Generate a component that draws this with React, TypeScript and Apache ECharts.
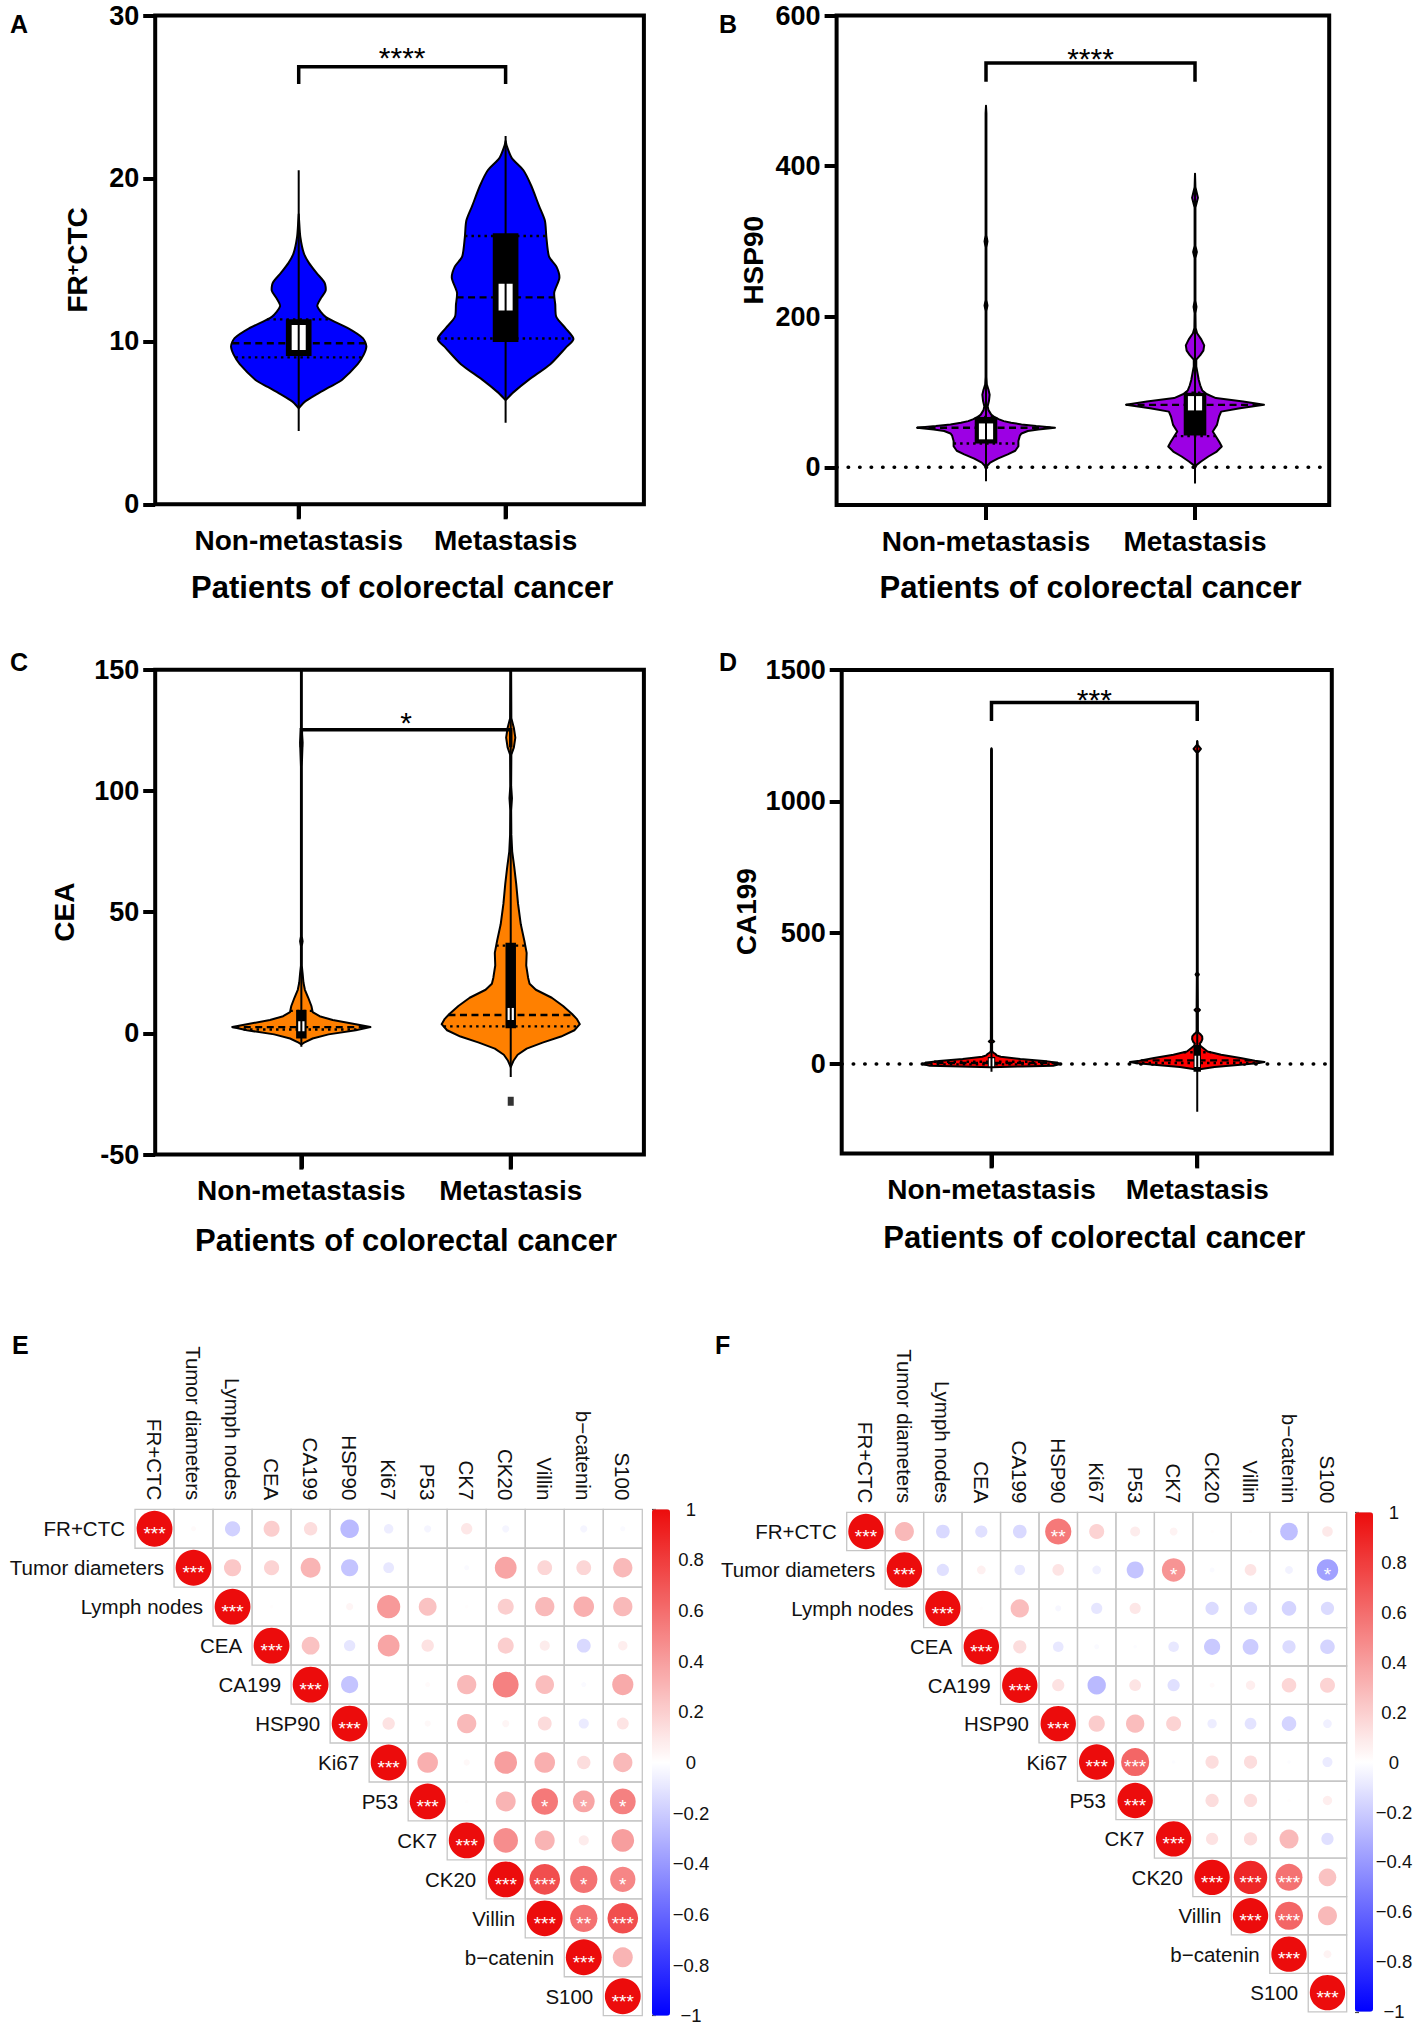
import React, { useEffect, useRef } from "react";
import * as echarts from "echarts";

const FONT = "'Liberation Sans', Arial, Helvetica, sans-serif";

// ---------------- Violin panels (A–D) ----------------
const groupNames = ["Non-metastasis", "Metastasis"];
const groupTicks = [0, 1];

// outline profiles: [value, half-width in group units]
const ctcNonMetOutline = [[5.9,0],[6.3,0.03],[6.7,0.08],[7.2,0.15],[7.65,0.21],[8.6,0.285],[9.2,0.315],[9.7,0.327],[10.2,0.31],[10.8,0.24],[11.5,0.13],[12.15,0.09],[12.6,0.105],[13.1,0.13],[13.6,0.125],[14.2,0.086],[14.8,0.05],[15.4,0.025],[16.4,0.008],[17.4,0.002],[17.8,0]];
const ctcMetOutline = [[6.4,0],[6.9,0.04],[7.65,0.113],[8.6,0.216],[9.6,0.29],[10.15,0.328],[10.8,0.29],[11.5,0.245],[12.25,0.24],[13.0,0.235],[13.9,0.26],[14.6,0.245],[15.2,0.21],[16.4,0.197],[17.4,0.19],[18.3,0.162],[19.55,0.124],[20.5,0.086],[21.25,0.03],[21.98,0.006],[22.3,0]];
const hspNonMetOutline = [[-2,0],[1.8,0.005],[6.2,0.02],[11.5,0.056],[17.3,0.104],[22,0.14],[28,0.155],[35,0.155],[42,0.162],[45,0.17],[48.2,0.2],[50.4,0.25],[52.6,0.33],[54.8,0.24],[57,0.17],[59.2,0.12],[61.4,0.085],[64,0.06],[66.9,0.04],[70,0.025],[76,0.012],[81,0.008],[88,0.014],[96.5,0.0175],[103,0.012],[110,0.004],[120,0.002],[208,0.002],[215,0.007],[222,0.002],[292,0.002],[300,0.007],[308,0.002],[470,0.002],[480,0]];
const hspMetOutline = [[-1,0],[3.3,0.008],[7.8,0.029],[14.4,0.064],[21,0.104],[27.7,0.128],[34.3,0.115],[41,0.1],[47.5,0.085],[56.4,0.105],[67.5,0.115],[74,0.125],[78.6,0.215],[83,0.33],[87.5,0.23],[92,0.1],[97.4,0.055],[102,0.035],[109,0.025],[116,0.018],[122,0.014],[134,0.006],[143,0.006],[149,0.025],[155,0.04],[162,0.044],[170,0.03],[178,0.01],[185,0.003],[205,0.002],[213,0.007],[221,0.002],[278,0.002],[286,0.009],[294,0.002],[345,0.002],[358,0.014],[372,0.002],[390,0]];
const ceaNonMetOutline = [[-4.6,0],[-3.8,0.013],[-2.1,0.054],[-0.4,0.13],[1.3,0.26],[2.6,0.33],[3.8,0.26],[5.5,0.15],[7.1,0.087],[8.8,0.054],[11.3,0.048],[14.7,0.033],[18,0.017],[21,0.01],[24.8,0.006],[28,0.002],[36,0.002],[38,0.006],[40,0.002],[110,0.002],[120,0.006],[125,0.002],[150,0.002]];
const ceaMetOutline = [[-13.9,0],[-11.3,0.013],[-8.8,0.033],[-6.3,0.076],[-3.8,0.152],[-1.3,0.24],[1.3,0.304],[3.8,0.33],[6,0.315],[8,0.293],[11.3,0.25],[14.7,0.196],[18,0.12],[20.5,0.09],[23,0.083],[28,0.074],[33.2,0.076],[38.2,0.065],[45,0.048],[53.4,0.035],[61.8,0.026],[68.5,0.017],[75,0.007],[82,0.003],[92,0.002],[97,0.006],[102,0.002],[115,0.003],[118,0.015],[122,0.022],[126,0.015],[130,0.003],[150,0.002]];
const caNonMetOutline = [[-12,0],[-9,0.15],[-6,0.3],[0,0.335],[5,0.32],[11.4,0.255],[19,0.14],[28,0.045],[33,0.025],[38,0.02],[44,0.008],[50,0.003],[80,0.003],[86,0.013],[92,0.003],[1195,0.002],[1202,0]];
const caMetOutline = [[-22,0],[-19,0.02],[-11.4,0.084],[-2.5,0.21],[4,0.3],[8,0.327],[13,0.28],[22.8,0.21],[35.5,0.116],[48,0.05],[60.5,0.03],[70,0.015],[78,0.012],[85,0.02],[95,0.025],[105,0.024],[113,0.016],[120,0.005],[130,0.003],[198,0.003],[206,0.013],[214,0.003],[333,0.002],[341,0.008],[349,0.002],[1185,0.002],[1200,0.018],[1215,0.002],[1230,0]];

// summary statistics per violin
const ctcNonMetStats = { whisker: [4.5, 20.5], box: [9.1, 11.35], inner: [9.47, 11.0], quartiles: [9.02, 11.35], median: 9.88 };
const ctcMetStats = { whisker: [5.0, 22.6], box: [9.96, 16.64], inner: [11.9, 13.53], quartiles: [10.18, 16.47], median: 12.7 };
const hspNonMetStats = { whisker: [-18.6, 480], box: [31.6, 66.9], inner: [37.2, 58.3], quartiles: [31.6, 66.9], median: 52.6 };
const hspMetStats = { whisker: [-21.6, 390], box: [42.4, 99], inner: [75.6, 94.6], quartiles: [41.5, 99], median: 83 };
const ceaNonMetStats = { whisker: [-5.5, 150], box: [-2.1, 9.7], inner: [0.9, 5], quartiles: [1.6, 9.3], median: 2.6 };
const ceaMetStats = { whisker: [-18, 150], box: [2.1, 37.4], inner: [5.5, 10.5], quartiles: [2.9, 36.2], median: 7.6 };
const caNonMetStats = { whisker: [-29, 1202], box: [-13, 27], inner: [-8, 22], quartiles: [-1, 9], median: 4 };
const caMetStats = { whisker: [-181.5, 1230], box: [-29, 73], inner: [-11.4, 31.7], quartiles: [4, 45], median: 14 };
const ceaMetOutliers = [[1, -28]];

// y axis ranges and tick labels
const ctcRange = [0, 30];
const ctcTicks = [0, 10, 20, 30];
const hspRange = [-50, 600];
const hspTicks = [0, 200, 400, 600];
const ceaRange = [-50, 150];
const ceaTicks = [-50, 0, 50, 100, 150];
const caRange = [-340, 1500];
const caTicks = [0, 500, 1000, 1500];

// significance brackets: [leg bottom, bar level], star label level
const ctcBracket = [25.8, 26.85];
const ctcStarLevel = 27.9;
const hspBracket = [512, 537];
const hspStarLevel = 553;
const ceaBracket = [118, 125.3];
const ceaStarLevel = 131.5;
const caBracket = [1306, 1376];
const caStarLevel = 1418;
const significance = ["****", "****", "*", "***"];

// ---------------- Correlation panels (E, F) ----------------
const corrNames = ["FR+CTC", "Tumor diameters", "Lymph nodes", "CEA", "CA199", "HSP90", "Ki67", "P53", "CK7", "CK20", "Villin", "b\u2212catenin", "S100"];

// upper triangles, row i holds columns i..12
const corrE = [
  [1, 0.02, -0.18, 0.2, 0.14, -0.27, -0.07, -0.04, 0.1, -0.04, 0.0, -0.04, -0.02],
  [1, 0.23, 0.18, 0.31, -0.23, -0.09, 0.0, -0.02, 0.37, 0.17, 0.17, 0.29],
  [1, 0.01, 0.0, 0.04, 0.42, 0.25, 0.01, 0.2, 0.29, 0.33, 0.29],
  [1, 0.25, -0.1, 0.37, 0.12, 0.0, 0.2, 0.08, -0.15, 0.07],
  [1, -0.23, 0.0, 0.02, 0.29, 0.52, 0.27, -0.02, 0.35],
  [1, 0.12, 0.03, 0.29, 0.04, 0.15, -0.08, 0.11],
  [1, 0.33, 0.03, 0.4, 0.33, 0.14, 0.29],
  [1, 0.01, 0.31, 0.55, 0.37, 0.52],
  [1, 0.47, 0.31, 0.08, 0.4],
  [1, 0.73, 0.58, 0.5],
  [1, 0.58, 0.73],
  [1, 0.31],
  [1],
];
const starsE = [
  [3, 0, 0, 0, 0, 0, 0, 0, 0, 0, 0, 0, 0],
  [3, 0, 0, 0, 0, 0, 0, 0, 0, 0, 0, 0],
  [3, 0, 0, 0, 0, 0, 0, 0, 0, 0, 0],
  [3, 0, 0, 0, 0, 0, 0, 0, 0, 0],
  [3, 0, 0, 0, 0, 0, 0, 0, 0],
  [3, 0, 0, 0, 0, 0, 0, 0],
  [3, 0, 0, 0, 0, 0, 0],
  [3, 0, 0, 1, 1, 1],
  [3, 0, 0, 0, 0],
  [3, 3, 1, 1],
  [3, 2, 3],
  [3, 0],
  [3],
];
const corrF = [
  [1, 0.29, -0.15, -0.12, -0.15, 0.55, 0.18, 0.08, 0.05, 0.01, 0.01, -0.25, 0.09],
  [1, -0.12, 0.06, -0.09, 0.11, -0.06, -0.23, 0.44, -0.02, 0.11, -0.05, -0.37],
  [1, 0.01, 0.27, -0.03, -0.1, 0.1, 0.0, -0.14, -0.14, -0.17, -0.14],
  [1, 0.14, -0.09, -0.02, -0.01, -0.09, -0.21, -0.2, -0.14, -0.17],
  [1, 0.12, -0.27, 0.11, -0.12, 0.02, 0.07, 0.17, 0.18],
  [1, 0.21, 0.27, 0.18, -0.07, -0.11, -0.17, -0.06],
  [1, 0.63, -0.01, 0.14, 0.14, -0.01, -0.08],
  [1, 0.0, 0.14, 0.14, 0.01, 0.07],
  [1, 0.12, 0.14, 0.29, -0.12],
  [1, 0.89, 0.58, 0.25],
  [1, 0.63, 0.29],
  [1, 0.05],
  [1],
];
const starsF = [
  [3, 0, 0, 0, 0, 2, 0, 0, 0, 0, 0, 0, 0],
  [3, 0, 0, 0, 0, 0, 0, 1, 0, 0, 0, 1],
  [3, 0, 0, 0, 0, 0, 0, 0, 0, 0, 0],
  [3, 0, 0, 0, 0, 0, 0, 0, 0, 0],
  [3, 0, 0, 0, 0, 0, 0, 0, 0],
  [3, 0, 0, 0, 0, 0, 0, 0],
  [3, 3, 0, 0, 0, 0, 0],
  [3, 0, 0, 0, 0, 0],
  [3, 0, 0, 0, 0],
  [3, 3, 3, 0],
  [3, 3, 0],
  [3, 0],
  [3],
];
const colorbarRange = [-1, 1];
const corrColors = ["#0000FF", "#FFFFFF", "#EC0C0C"];

// ---------------- helpers ----------------
type Stats = { whisker: number[]; box: number[]; inner: number[]; quartiles: number[]; median: number };
type Violin = { outline: number[][]; stats: Stats };

function widthAt(outline: number[][], v: number) {
  for (let i = 1; i < outline.length; i++) {
    const [y0, w0] = outline[i - 1];
    const [y1, w1] = outline[i];
    if (v >= y0 && v <= y1) return y1 === y0 ? w0 : w0 + ((v - y0) / (y1 - y0)) * (w1 - w0);
  }
  return 0;
}

function violinSeries(gi: number, violins: Violin[], color: string, boxHW: number, innerHW: number, smooth: number) {
  return {
    type: "custom",
    xAxisIndex: gi,
    yAxisIndex: gi,
    clip: true,
    z: 3,
    encode: { x: 0, y: 1 },
    data: violins.map((_, i) => [groupTicks[i], 0]),
    renderItem: (params: any, api: any) => {
      const vi = violins[params.dataIndex];
      const c = api.value(0);
      const P = (x: number, y: number) => api.coord([x, y]);
      const right = vi.outline.map(([y, w]) => P(c + w, y));
      const left = vi.outline.slice().reverse().map(([y, w]) => P(c - w, y));
      const ch: any[] = [];
      ch.push({ type: "polygon", shape: { points: right.concat(left), smooth }, style: { fill: color, stroke: "#000", lineWidth: 2, lineJoin: "round" } });
      const hLine = (v: number, dash: number[]) => {
        const w = widthAt(vi.outline, v);
        const a = P(c - w, v);
        const b = P(c + w, v);
        return { type: "line", shape: { x1: a[0], y1: a[1], x2: b[0], y2: b[1] }, style: { stroke: "#000", lineWidth: 2.4, lineDash: dash } };
      };
      ch.push(hLine(vi.stats.quartiles[0], [2.5, 4]));
      ch.push(hLine(vi.stats.quartiles[1], [2.5, 4]));
      ch.push(hLine(vi.stats.median, [7, 4.5]));
      const rect = (lo: number, hi: number, hw: number, fill: string) => {
        const a = P(c - hw, hi);
        const b = P(c + hw, lo);
        return { type: "rect", shape: { x: a[0], y: a[1], width: b[0] - a[0], height: b[1] - a[1] }, style: { fill } };
      };
      ch.push(rect(vi.stats.box[0], vi.stats.box[1], boxHW, "#000"));
      ch.push(rect(vi.stats.inner[0], vi.stats.inner[1], innerHW, "#fff"));
      const w0 = P(c, vi.stats.whisker[0]);
      const w1 = P(c, vi.stats.whisker[1]);
      ch.push({ type: "line", shape: { x1: w0[0], y1: w0[1], x2: w1[0], y2: w1[1] }, style: { stroke: "#000", lineWidth: 2 } });
      return { type: "group", children: ch };
    },
  };
}

// group tick marks under the frame (drawn through the x scale)
function groupTickSeries(gi: number, yMin: number) {
  return {
    type: "custom",
    xAxisIndex: gi,
    yAxisIndex: gi,
    clip: false,
    z: 6,
    silent: true,
    encode: { x: 0, y: 1 },
    data: groupTicks.map((t) => [t, yMin]),
    renderItem: (params: any, api: any) => {
      const p = api.coord([api.value(0), api.value(1)]);
      return { type: "line", shape: { x1: p[0], y1: p[1], x2: p[0], y2: p[1] + 15 }, style: { stroke: "#000", lineWidth: 4 } };
    },
  };
}

function corrSeries(gi: number, corr: number[][], stars: number[][]) {
  const data: number[][] = [];
  corr.forEach((row, i) => row.forEach((r, k) => data.push([i + k, i, r, stars[i][k]])));
  return {
    type: "custom",
    xAxisIndex: gi,
    yAxisIndex: gi,
    encode: { x: 0, y: 1 },
    data,
    renderItem: (params: any, api: any) => {
      const col = api.value(0);
      const row = api.value(1);
      const r = api.value(2);
      const st = api.value(3);
      const [cx, cy] = api.coord([col, row]);
      const [w, h] = api.size([1, 1]);
      const ch: any[] = [
        { type: "rect", shape: { x: cx - w / 2, y: cy - h / 2, width: w, height: h }, style: { fill: "none", stroke: "#C6C6C6", lineWidth: 1.3 } },
      ];
      const rad = 0.46 * Math.sqrt(Math.abs(r)) * Math.min(w, h);
      if (rad > 0.3) ch.push({ type: "circle", shape: { cx, cy, r: rad }, style: { fill: api.visual("color") } });
      if (st > 0)
        ch.push({ type: "text", x: cx, y: cy + 4.8, style: { text: "*".repeat(st), fill: "#fff", fontSize: 19, fontFamily: FONT, align: "center", verticalAlign: "middle" } });
      if (col === row)
        ch.push({ type: "text", x: cx - w / 2 - 10, y: cy, style: { text: corrNames[row], fill: "#111", fontSize: 20.5, fontFamily: FONT, align: "right", verticalAlign: "middle" } });
      return { type: "group", children: ch };
    },
  };
}

function buildOption() {
  const panels = [
    { letter: "A", lx: 10, ly: 11, grid: { left: 155.2, top: 15.5, width: 488.7, height: 488.8 }, x: [-0.6936, 1.6684], y: ctcRange, ticks: ctcTicks, color: "#0000FF",
      violins: [{ outline: ctcNonMetOutline, stats: ctcNonMetStats }, { outline: ctcMetOutline, stats: ctcMetStats }], bracket: ctcBracket, starLevel: ctcStarLevel, zero: false, boxHW: 0.062, innerHW: 0.034, smooth: 0.25,
      yTitle: "FR{s|+}CTC", ytx: 77.6, xty: 587, outliers: [] as number[][] },
    { letter: "B", lx: 719, ly: 11, grid: { left: 836.6, top: 15.5, width: 492.6, height: 489.5 }, x: [-0.7148, 1.642], y: hspRange, ticks: hspTicks, color: "#9C00E4",
      violins: [{ outline: hspNonMetOutline, stats: hspNonMetStats }, { outline: hspMetOutline, stats: hspMetStats }], bracket: hspBracket, starLevel: hspStarLevel, zero: true, boxHW: 0.054, innerHW: 0.034, smooth: 0,
      yTitle: "HSP90", ytx: 753.8, xty: 587, outliers: [] as number[][] },
    { letter: "C", lx: 10, ly: 649, grid: { left: 155.2, top: 669.8, width: 488.7, height: 484.8 }, x: [-0.698, 1.636], y: ceaRange, ticks: ceaTicks, color: "#FF8000",
      violins: [{ outline: ceaNonMetOutline, stats: ceaNonMetStats }, { outline: ceaMetOutline, stats: ceaMetStats }], bracket: ceaBracket, starLevel: ceaStarLevel, zero: false, boxHW: 0.025, innerHW: 0.015, smooth: 0,
      yTitle: "CEA", ytx: 64.7, xty: 1240, outliers: ceaMetOutliers },
    { letter: "D", lx: 719, ly: 649, grid: { left: 841.7, top: 670, width: 490.1, height: 483.4 }, x: [-0.728, 1.654], y: caRange, ticks: caTicks, color: "#FF0000",
      violins: [{ outline: caNonMetOutline, stats: caNonMetStats }, { outline: caMetOutline, stats: caMetStats }], bracket: caBracket, starLevel: caStarLevel, zero: true, boxHW: 0.018, innerHW: 0.013, smooth: 0,
      yTitle: "CA199", ytx: 746, xty: 1237, outliers: [] as number[][] },
  ];

  const grids: any[] = [];
  const xAxes: any[] = [];
  const yAxes: any[] = [];
  const series: any[] = [];
  const graphics: any[] = [];

  panels.forEach((p, gi) => {
    grids.push({ ...p.grid, show: true, borderColor: "#000", borderWidth: 4, backgroundColor: "transparent", containLabel: false });
    xAxes.push({
      gridIndex: gi, type: "value", min: p.x[0], max: p.x[1], position: "bottom",
      axisLine: { show: false, onZero: false }, splitLine: { show: false },
      axisTick: { show: true, customValues: groupTicks, length: 14, lineStyle: { width: 4, color: "#000" } },
      axisLabel: { show: true, customValues: groupTicks, formatter: (v: number) => groupNames[Math.round(v)] ?? "", margin: 22, fontSize: 28, fontWeight: "bold", color: "#000", fontFamily: FONT },
    });
    yAxes.push({
      gridIndex: gi, type: "value", min: p.y[0], max: p.y[1], position: "left",
      axisLine: { show: false, onZero: false }, splitLine: { show: false },
      axisTick: { show: true, customValues: p.ticks, length: 12, lineStyle: { width: 4, color: "#000" } },
      axisLabel: { show: true, customValues: p.ticks, formatter: (v: number) => String(v), margin: 16, fontSize: 27, fontWeight: "bold", color: "#000", fontFamily: FONT },
    });
    if (p.zero) {
      series.push({ type: "line", xAxisIndex: gi, yAxisIndex: gi, data: [[p.x[0], 0], [p.x[1], 0]], symbol: "none", silent: true, z: 1,
        lineStyle: { color: "#000", width: 3.5, type: [0.5, 11], cap: "round" } });
    }
    series.push(violinSeries(gi, p.violins, p.color, p.boxHW, p.innerHW, p.smooth));
    series.push(groupTickSeries(gi, p.y[0]));
    if (p.outliers.length) {
      series.push({ type: "scatter", xAxisIndex: gi, yAxisIndex: gi, data: p.outliers, symbol: "rect", symbolSize: [6, 9], itemStyle: { color: "#000" }, z: 4 });
    }
    series.push({ type: "line", xAxisIndex: gi, yAxisIndex: gi, symbol: "none", z: 5, silent: true,
      data: [[0, p.bracket[0]], [0, p.bracket[1]], [1, p.bracket[1]], [1, p.bracket[0]]],
      lineStyle: { color: "#000", width: 3.5, cap: "butt", join: "miter" } });
    series.push({ type: "custom", xAxisIndex: gi, yAxisIndex: gi, z: 5, data: [[0.5, p.starLevel]], encode: { x: 0, y: 1 },
      renderItem: (params: any, api: any) => {
        const pt = api.coord([api.value(0), api.value(1)]);
        return { type: "text", x: pt[0], y: pt[1] + 7.5, style: { text: significance[gi], fontSize: 30, fontFamily: FONT, fill: "#000", align: "center", verticalAlign: "middle" } };
      } });

    // text decorations
    graphics.push({ type: "text", left: p.lx, top: p.ly, style: { text: p.letter, fontSize: 25, fontWeight: "bold", fontFamily: FONT, fill: "#000" } });
    const midY = p.grid.top + p.grid.height / 2;
    graphics.push({ type: "text", x: p.ytx, y: midY, rotation: Math.PI / 2,
      style: { text: p.yTitle, fontSize: 28, fontWeight: "bold", fontFamily: FONT, fill: "#000", align: "center", verticalAlign: "middle",
        rich: { s: { fontSize: 18, fontWeight: "bold", fontFamily: FONT, verticalAlign: "top", fill: "#000" } } } });
    const cx = p.grid.left + ((0.5 - p.x[0]) / (p.x[1] - p.x[0])) * p.grid.width;
    graphics.push({ type: "text", x: cx, y: p.xty,
      style: { text: "Patients of colorectal cancer", fontSize: 31, fontWeight: "bold", fontFamily: FONT, fill: "#000", align: "center", verticalAlign: "middle" } });
  });

  // correlation panels
  const corrPanels = [
    { letter: "E", lx: 12, ly: 1332, grid: { left: 135, top: 1509.3, width: 507.3, height: 506.4 }, cb: { left: 652, top: 1509.3, width: 18, height: 506.4 }, corr: corrE, stars: starsE },
    { letter: "F", lx: 715, ly: 1332, grid: { left: 846.7, top: 1512.3, width: 500, height: 499.5 }, cb: { left: 1355, top: 1512.3, width: 18, height: 499.5 }, corr: corrF, stars: starsF },
  ];
  const visualMaps: any[] = [];
  corrPanels.forEach((p) => {
    const gi = grids.length;
    grids.push({ ...p.grid, containLabel: false });
    xAxes.push({ gridIndex: gi, type: "category", data: corrNames, position: "top",
      axisLine: { show: false }, axisTick: { show: false }, splitLine: { show: false },
      axisLabel: { interval: 0, rotate: 90, margin: 9, fontSize: 20.5, color: "#111", fontFamily: FONT } });
    yAxes.push({ gridIndex: gi, type: "category", data: corrNames, inverse: true, show: false });
    const si = series.length;
    series.push(corrSeries(gi, p.corr, p.stars));
    visualMaps.push({ type: "continuous", seriesIndex: si, dimension: 2, min: colorbarRange[0], max: colorbarRange[1], orient: "vertical",
      left: p.cb.left, top: p.cb.top, itemWidth: p.cb.width, itemHeight: p.cb.height, padding: 0, calculable: false, hoverLink: false,
      inRange: { color: corrColors } });
    const cgi = grids.length;
    grids.push({ ...p.cb, containLabel: false });
    xAxes.push({ gridIndex: cgi, type: "value", show: false });
    yAxes.push({ gridIndex: cgi, type: "value", min: colorbarRange[0], max: colorbarRange[1], interval: 0.2, position: "right",
      axisLine: { show: false }, splitLine: { show: false },
      axisTick: { show: true, length: 4, lineStyle: { color: "#444", width: 1.2 } },
      axisLabel: { margin: 21, align: "center", fontSize: 18.5, color: "#111", fontFamily: FONT,
        formatter: (v: number) => { const r = Math.round(v * 10) / 10; return r < 0 ? "\u2212" + String(-r) : String(r); } } });
    graphics.push({ type: "text", left: p.lx, top: p.ly, style: { text: p.letter, fontSize: 25, fontWeight: "bold", fontFamily: FONT, fill: "#000" } });
  });

  return {
    animation: false,
    backgroundColor: "#fff",
    textStyle: { fontFamily: FONT },
    grid: grids,
    xAxis: xAxes,
    yAxis: yAxes,
    visualMap: visualMaps,
    series,
    graphic: graphics,
  };
}

export default function App() {
  const ref = useRef<HTMLDivElement>(null);
  useEffect(() => {
    document.body.style.margin = "0";
    const chart = echarts.init(ref.current!, null, { renderer: "svg", width: 1417, height: 2028 });
    chart.setOption(buildOption() as any);
    return () => chart.dispose();
  }, []);
  return <div ref={ref} style={{ width: 1417, height: 2028 }} />;
}
